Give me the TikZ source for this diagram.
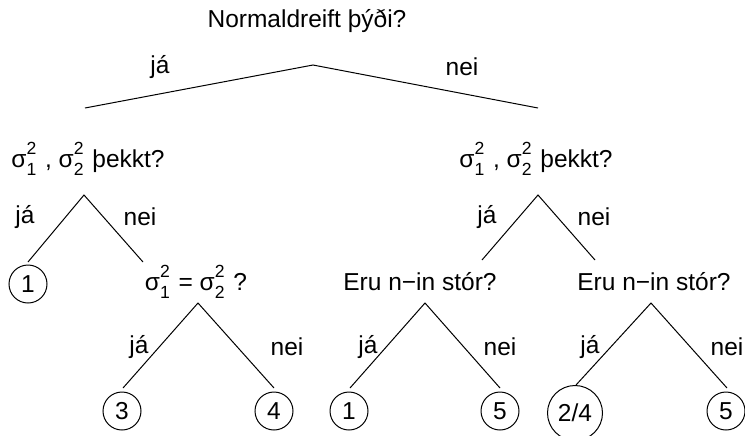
\documentclass[tikz,border=0pt]{standalone}
\usepackage{fontspec}
\setmainfont{Liberation Sans}
\newcommand\sg[2]{σ\rlap{\raisebox{0.52em}{\fontsize{8.8}{9}\selectfont #1}}\raisebox{-0.32em}{\fontsize{8.8}{9}\selectfont #2}\hspace{1pt}}
\begin{document}
\begin{tikzpicture}[x=0.5pt,y=-0.5pt,
  every node/.style={font=\fontsize{12.25}{14}\selectfont, inner sep=0pt},
  lbl/.style={anchor=center},
  leaf/.style={draw, circle, line width=0.5pt, minimum size=19pt, inner sep=0pt},
  bigleaf/.style={draw, circle, line width=0.5pt, minimum size=27.5pt, inner sep=0pt},
  branch/.style={line width=0.5pt}]
\useasboundingbox (0,0) rectangle (745,435);
% top
\node[lbl] (q0) at (307,21) {Normaldreift þýði?};
\coordinate (a0) at (313,65);
\coordinate (a0l) at (85,108);
\coordinate (a0r) at (538,108);
\draw[branch] (a0l) -- (a0) -- (a0r);
\node[lbl] (y0) at (160,67) {já};
\node[lbl] (n0) at (462,67) {nei};
% level 2
\node[lbl] (qL) at (88,159) {\sg{2}{1} , \sg{2}{2} þekkt?};
\node[lbl] (qR) at (536,159) {\sg{2}{1} , \sg{2}{2} þekkt?};
\coordinate (aL) at (84,195);
\coordinate (aLl) at (28,262);
\coordinate (aLr) at (143,262);
\draw[branch] (aLl) -- (aL) -- (aLr);
\node[lbl] (yL) at (25,217) {já};
\node[lbl] (nL) at (140,217) {nei};
\coordinate (aR) at (538,195);
\coordinate (aRl) at (482,260);
\coordinate (aRr) at (595,260);
\draw[branch] (aRl) -- (aR) -- (aRr);
\node[lbl] (yR) at (487,217) {já};
\node[lbl] (nR) at (594,217) {nei};
% level 3
\node[leaf] (c1) at (28,284) {1};
\node[lbl] (qE) at (196,282) {\sg{2}{1} = \sg{2}{2} ?};
\node[lbl] (qN1) at (420,282) {Eru n−in stór?};
\node[lbl] (qN2) at (654,282) {Eru n−in stór?};
\coordinate (aE) at (198,303);
\coordinate (aEl) at (123,388);
\coordinate (aEr) at (274,388);
\draw[branch] (aEl) -- (aE) -- (aEr);
\node[lbl] (yE) at (139,347) {já};
\node[lbl] (nE) at (287,347) {nei};
\coordinate (aN1) at (425,303);
\coordinate (aN1l) at (350,388);
\coordinate (aN1r) at (500,388);
\draw[branch] (aN1l) -- (aN1) -- (aN1r);
\node[lbl] (yN1) at (368,347) {já};
\node[lbl] (nN1) at (500,347) {nei};
\coordinate (aN2) at (651,303);
\coordinate (aN2l) at (576,385);
\coordinate (aN2r) at (727,388);
\draw[branch] (aN2l) -- (aN2) -- (aN2r);
\node[lbl] (yN2) at (590,347) {já};
\node[lbl] (nN2) at (727,347) {nei};
% leaves
\node[leaf] (c3) at (122,411) {3};
\node[leaf] (c4) at (274,411) {4};
\node[leaf] (c1b) at (349,411) {1};
\node[leaf] (c5) at (500,411) {5};
\node[bigleaf] (c24) at (575,413) {2/4};
\node[leaf] (c5b) at (726,411) {5};
\end{tikzpicture}
\end{document}
